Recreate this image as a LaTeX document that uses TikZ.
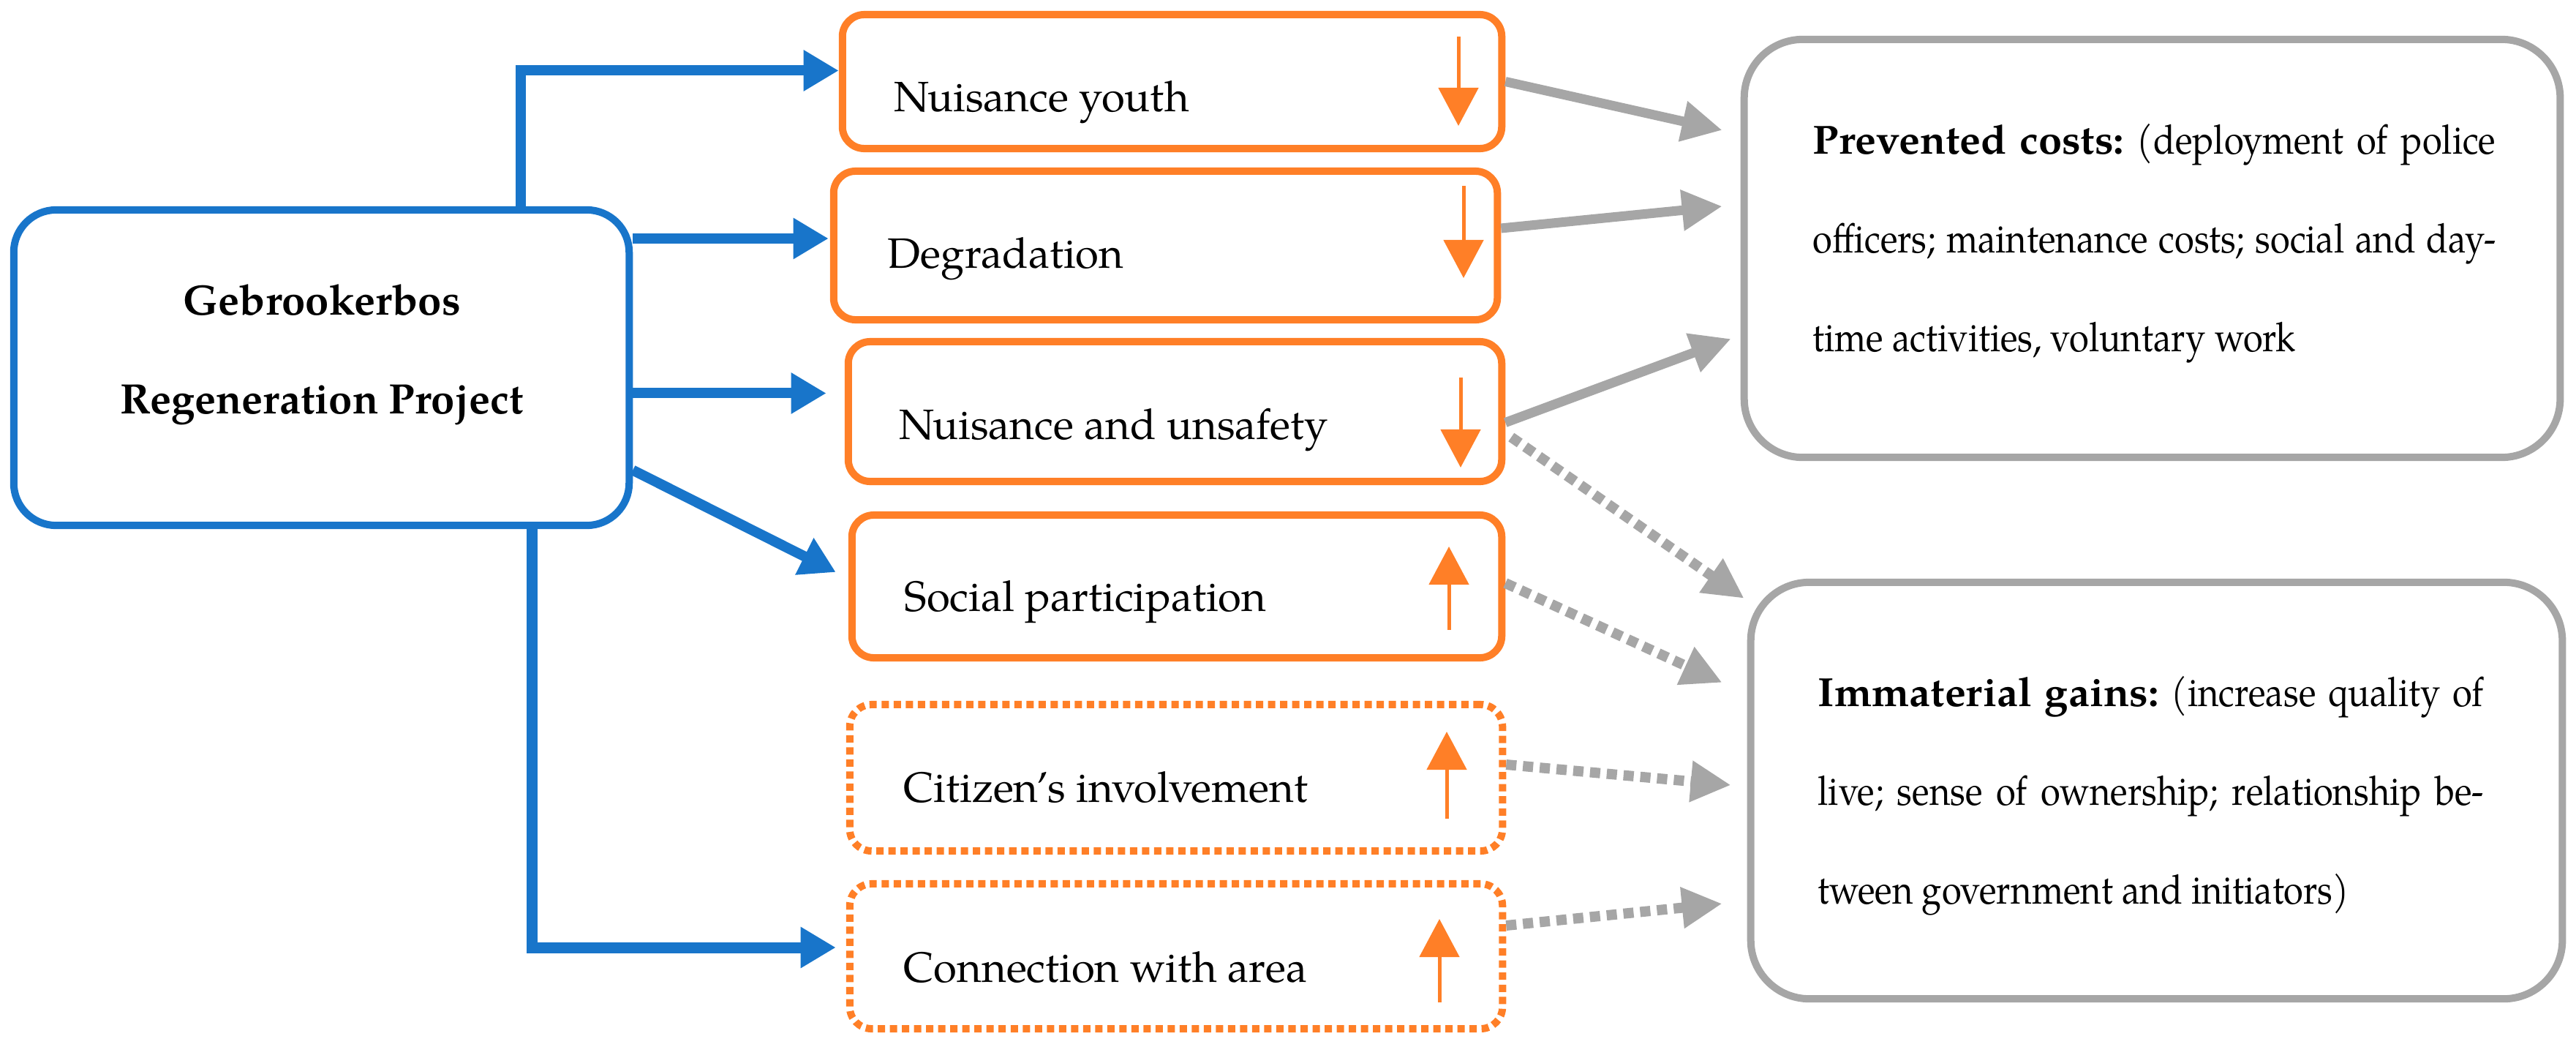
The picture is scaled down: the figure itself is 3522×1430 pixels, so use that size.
\documentclass[tikz,border=0pt]{standalone}
\usepackage{fontspec}
\setmainfont{texgyrepagella}[Extension=.otf,UprightFont=*-regular,BoldFont=*-bold,ItalicFont=*-italic,BoldItalicFont=*-bolditalic]
\newfontfamily\gainfont{texgyrepagella}[Extension=.otf,UprightFont=*-regular,BoldFont=*-bold,
  UprightFeatures={FakeStretch=0.88},BoldFeatures={FakeStretch=1.04}]
\usepackage{tikz}
\usetikzlibrary{arrows.meta,calc}

\definecolor{projblue}{RGB}{24,117,202}
\definecolor{effectorange}{RGB}{255,127,39}
\definecolor{gaingray}{RGB}{166,166,166}

\newcommand\gainsize{\gainfont\fontsize{15.8}{38.4}\selectfont\frenchspacing
  \spaceskip=0.22em plus 0.4em minus 0.12em\relax\hyphenpenalty=10000\relax}

\tikzset{
  projbox/.style={draw=projblue,line width=0.1cm,rounded corners=0.58cm,inner sep=0pt},
  effectbox/.style={draw=effectorange,line width=0.1cm,rounded corners=0.3cm,inner sep=0pt},
  effectdash/.style={effectbox,dash pattern=on 0.1cm off 0.065cm},
  gainbox/.style={draw=gaingray,line width=0.1cm,rounded corners=0.8cm,inner sep=0pt},
  txt/.style={inner sep=0pt,font=\fontsize{16.5}{38.4}\selectfont},
  gaintxt/.style={inner sep=0pt,align=justify,anchor=west,font=\gainsize},
  projarrow/.style={draw=projblue,line width=0.14cm,-{Triangle[length=0.48cm,width=0.53cm]}},
  gainarrow/.style={draw=gaingray,line width=0.13cm,-{Triangle[length=0.55cm,width=0.53cm]}},
  gaindots/.style={gainarrow,line width=0.14cm,dash pattern=on 0.14cm off 0.09cm},
  trend/.style={draw=effectorange,line width=0.05cm,-{Triangle[length=0.52cm,width=0.54cm]}}
}

\begin{document}
\begin{tikzpicture}[x=0.01cm,y=-0.01cm]
        \useasboundingbox (0,0) rectangle (3522,1430);

        % project
        \node[projbox,minimum width=8.41cm,minimum height=4.31cm] (proj) at (439.5,502.5) {};
        \node[txt,align=center,font=\fontsize{16.5}{38.4}\selectfont\bfseries] (projtext) at (440,485)
              {Gebrookerbos\\Regeneration Project};

        % effects
        \node[effectbox,minimum width=9.01cm,minimum height=1.83cm] (nuisyouth) at (1602.5,111.5) {};
        \node[effectbox,minimum width=9.07cm,minimum height=2.03cm] (degrad) at (1593.5,335.5) {};
        \node[effectbox,minimum width=8.93cm,minimum height=1.91cm] (nuisunsafe) at (1606.5,562.5) {};
        \node[effectbox,minimum width=8.88cm,minimum height=1.95cm] (socpart) at (1609,801.5) {};
        \node[effectdash,minimum width=8.92cm,minimum height=2.00cm] (citizen) at (1608,1063) {};
        \node[effectdash,minimum width=8.92cm,minimum height=1.98cm] (connarea) at (1608,1307) {};

        \node[txt,anchor=base west] (nuisyouthtext) at (1222,152) {Nuisance youth};
        \node[txt,anchor=base west] (degradtext) at (1213,366) {Degradation};
        \node[txt,anchor=base west] (nuisunsafetext) at (1229,600) {Nuisance and unsafety};
        \node[txt,anchor=base west] (socparttext) at (1236,835) {Social participation};
        \node[txt,anchor=base west] (citizentext) at (1235,1096) {Citizen’s involvement};
        \node[txt,anchor=base west] (connareatext) at (1235,1342) {Connection with area};

        % trends
        \draw[trend] (1994,50) -- (1994,172);
        \draw[trend] (2001,254) -- (2001,380);
        \draw[trend] (1997,516) -- (1997,639);
        \draw[trend] (1981,861) -- (1981,747);
        \draw[trend] (1978,1119) -- (1978,1000);
        \draw[trend] (1968,1370) -- (1968,1256);

        % outcomes
        \node[gainbox,minimum width=11.15cm,minimum height=5.71cm] (prevcost) at (2942.5,339.5) {};
        \node[gainbox,minimum width=11.09cm,minimum height=5.69cm] (immgain) at (2948.5,1080.5) {};

        \node[gaintxt,text width=9.33cm] (prevcosttext) at (2478,333)
              {\textbf{Prevented costs:} (deployment of police\linebreak
               officers; maintenance costs; social and day-\linebreak
               time activities, voluntary work};
        \node[gaintxt,text width=9.1cm] (immgaintext) at (2485,1088)
              {\textbf{Immaterial gains:} (increase quality of\linebreak
               live; sense of ownership; relationship be-\linebreak
               tween government and initiators)};

        \coordinate (a2) at ([xshift=-0.02cm,yshift=0.095cm]degrad.west);
        \coordinate (a3) at ([xshift=-0.25cm,yshift=0.25cm]nuisunsafe.west);

        \draw[projarrow] ([xshift=2.725cm]proj.north) |- ([yshift=0.15cm]nuisyouth.west);
        \draw[projarrow] (proj.east |- a2) -- (a2);
        \draw[projarrow] (proj.east |- a3) -- (a3);
        \draw[projarrow] ([yshift=-1.4cm]proj.east) -- ([xshift=-0.17cm,yshift=0.195cm]socpart.west);
        \draw[projarrow,line width=0.15cm] ([xshift=2.875cm]proj.south) |- ([xshift=-0.14cm,yshift=0.12cm]connarea.west);

        \draw[gainarrow] (nuisyouth.east) -- ([xshift=-0.25cm,yshift=1.615cm]prevcost.west);
        \draw[gainarrow] ([yshift=0.235cm]degrad.east) -- ([xshift=-0.25cm,yshift=0.575cm]prevcost.west);
        \draw[gainarrow] ([yshift=-0.15cm]nuisunsafe.east) -- ([xshift=-0.13cm,yshift=-1.235cm]prevcost.west);
        \draw[gaindots] ([xshift=0.08cm,yshift=-0.35cm]nuisunsafe.east) -- ([xshift=-0.04cm,yshift=2.625cm]immgain.west);
        \draw[gaindots] ([yshift=0.045cm]socpart.east) -- ([xshift=-0.34cm,yshift=1.475cm]immgain.west);
        \draw[gaindots] ([yshift=0.18cm]citizen.east) -- ([xshift=-0.22cm,yshift=0.075cm]immgain.west);
        \draw[gaindots] ([yshift=0.42cm]connarea.east) -- ([xshift=-0.34cm,yshift=-1.545cm]immgain.west);
      \end{tikzpicture}
\end{document}
